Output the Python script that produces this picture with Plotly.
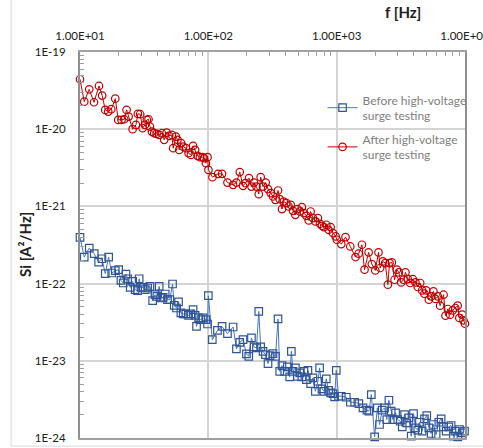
import plotly.graph_objects as go

# log10 of frequency [Hz] and log10 of Si [A^2/Hz]
after_logf = [1.000, 1.033, 1.072, 1.109, 1.148, 1.173, 1.197, 1.220, 1.244, 1.275,
              1.298, 1.324, 1.345, 1.363, 1.379, 1.410, 1.436, 1.451, 1.469, 1.488,
              1.506, 1.521, 1.534, 1.545, 1.560, 1.578, 1.597, 1.617, 1.638, 1.656,
              1.675, 1.695, 1.716, 1.726, 1.747, 1.760, 1.773, 1.788, 1.804, 1.825,
              1.846, 1.864, 1.881, 1.897, 1.916, 1.934, 1.955, 1.967, 1.981, 1.994,
              2.001, 2.032, 2.076, 2.107, 2.149, 2.193, 2.219, 2.245, 2.270, 2.289,
              2.317, 2.336, 2.356, 2.375, 2.393, 2.408, 2.426, 2.447, 2.465, 2.486,
              2.504, 2.523, 2.543, 2.556, 2.574, 2.587, 2.608, 2.626, 2.642, 2.660,
              2.678, 2.694, 2.712, 2.729, 2.745, 2.764, 2.782, 2.797, 2.815, 2.834,
              2.854, 2.870, 2.885, 2.901, 2.919, 2.937, 2.953, 2.971, 2.992, 3.002,
              3.036, 3.069, 3.106, 3.147, 3.171, 3.197, 3.217, 3.249, 3.274, 3.301,
              3.326, 3.339, 3.360, 3.378, 3.399, 3.412, 3.430, 3.451, 3.469, 3.484,
              3.503, 3.521, 3.536, 3.554, 3.573, 3.593, 3.614, 3.632, 3.651, 3.666,
              3.684, 3.697, 3.718, 3.736, 3.754, 3.770, 3.788, 3.806, 3.833, 3.848,
              3.866, 3.884, 3.904, 3.925, 3.943, 3.956, 3.977, 3.988, 4.000]
after_logsi = [-19.353, -19.643, -19.483, -19.651, -19.440, -19.565, -19.750, -19.772, -19.741, -19.604,
               -19.880, -19.880, -19.871, -19.750, -19.837, -20.000, -19.944, -19.802, -19.806, -19.987,
               -19.944, -19.880, -19.871, -19.966, -20.031, -20.052, -20.061, -20.074, -20.052, -20.138,
               -20.044, -20.087, -20.074, -20.246, -20.096, -20.138, -20.268, -20.181, -20.225, -20.246,
               -20.311, -20.333, -20.216, -20.268, -20.345, -20.362, -20.362, -20.375, -20.440, -20.362,
               -20.527, -20.621, -20.578, -20.578, -20.691, -20.721, -20.691, -20.556, -20.734, -20.699,
               -20.634, -20.743, -20.691, -20.743, -20.841, -20.621, -20.743, -20.691, -20.776, -20.828,
               -20.872, -20.915, -20.794, -20.906, -21.035, -20.937, -20.957, -21.001, -20.979, -21.057,
               -21.109, -21.035, -21.066, -21.009, -21.087, -21.122, -21.182, -21.066, -21.151, -21.195,
               -21.151, -21.225, -21.251, -21.268, -21.238, -21.303, -21.268, -21.345, -21.389, -21.432,
               -21.488, -21.397, -21.519, -21.656, -21.613, -21.497, -21.820, -21.596, -21.747, -21.829,
               -21.596, -21.798, -21.713, -21.734, -22.014, -21.734, -21.726, -21.950, -21.820, -21.855,
               -21.985, -21.950, -21.855, -21.941, -21.992, -21.941, -21.985, -22.044, -21.992, -22.088,
               -22.131, -22.088, -22.208, -22.166, -22.101, -22.199, -22.166, -22.286, -22.144, -22.415,
               -22.329, -22.402, -22.347, -22.316, -22.286, -22.445, -22.402, -22.476, -22.519]

before_logf = [1.000, 1.033, 1.072, 1.111, 1.145, 1.171, 1.197, 1.223, 1.247, 1.275,
               1.301, 1.319, 1.337, 1.358, 1.371, 1.391, 1.410, 1.430, 1.449, 1.461,
               1.475, 1.492, 1.508, 1.527, 1.545, 1.566, 1.584, 1.599, 1.617, 1.630,
               1.648, 1.664, 1.682, 1.700, 1.721, 1.734, 1.752, 1.768, 1.786, 1.804,
               1.825, 1.846, 1.864, 1.881, 1.897, 1.908, 1.924, 1.942, 1.959, 1.981,
               1.994, 2.000, 2.031, 2.071, 2.107, 2.149, 2.193, 2.219, 2.245, 2.270,
               2.297, 2.315, 2.336, 2.356, 2.375, 2.393, 2.408, 2.426, 2.445, 2.465,
               2.481, 2.504, 2.523, 2.543, 2.556, 2.574, 2.595, 2.616, 2.634, 2.647,
               2.660, 2.678, 2.694, 2.712, 2.729, 2.745, 2.764, 2.776, 2.797, 2.815,
               2.834, 2.854, 2.867, 2.885, 2.901, 2.919, 2.937, 2.953, 2.971, 2.984,
               2.997, 3.015, 3.036, 3.075, 3.107, 3.140, 3.173, 3.205, 3.236, 3.251,
               3.270, 3.296, 3.317, 3.334, 3.355, 3.373, 3.391, 3.407, 3.425, 3.438,
               3.459, 3.476, 3.495, 3.511, 3.529, 3.546, 3.562, 3.581, 3.599, 3.614,
               3.632, 3.645, 3.666, 3.684, 3.702, 3.718, 3.736, 3.754, 3.775, 3.796,
               3.814, 3.832, 3.853, 3.874, 3.892, 3.910, 3.926, 3.944, 3.957, 3.978,
               3.996]
before_logsi = [-21.402, -21.656, -21.540, -21.613, -21.721, -21.678, -21.872, -21.656, -21.863, -21.833,
                -21.820, -21.959, -21.992, -21.876, -21.937, -22.049, -21.972, -22.079, -22.092, -21.937,
                -22.049, -22.049, -22.079, -22.057, -22.036, -22.221, -22.144, -22.166, -22.036, -22.186,
                -22.179, -22.135, -22.208, -22.208, -22.005, -22.282, -22.316, -22.238, -22.380, -22.393,
                -22.393, -22.411, -22.393, -22.338, -22.411, -22.554, -22.445, -22.467, -22.445, -22.467,
                -22.523, -22.157, -22.726, -22.606, -22.554, -22.648, -22.562, -22.846, -22.761, -22.726,
                -22.911, -22.942, -22.704, -22.820, -22.833, -22.360, -22.820, -22.877, -22.920, -23.036,
                -22.933, -22.907, -22.942, -22.458, -23.136, -23.062, -23.136, -23.079, -23.208, -22.877,
                -23.136, -23.092, -23.201, -23.157, -23.208, -23.136, -23.243, -23.123, -23.295, -23.221,
                -23.395, -23.265, -23.092, -23.364, -23.395, -23.234, -23.382, -23.415, -23.424, -23.467,
                -23.123, -23.459, -23.459, -23.472, -23.537, -23.537, -23.554, -23.609, -23.640, -23.653,
                -23.437, -23.985, -23.609, -23.825, -23.640, -23.609, -23.761, -23.511, -23.653, -23.761,
                -23.674, -23.761, -23.783, -23.855, -23.696, -23.804, -23.739, -23.977, -23.683, -23.868,
                -23.899, -23.796, -23.912, -23.752, -23.709, -23.868, -23.942, -23.825, -23.955, -23.796,
                -23.752, -23.855, -23.912, -23.855, -23.838, -23.977, -23.912, -23.985, -23.890, -23.933,
                -23.912]

x_tickvals = [10, 100, 1000, 10000]
x_ticktext = ["1.00E+01", "1.00E+02", "1.00E+03", "1.00E+04"]
y_tickvals = [1e-24, 1e-23, 1e-22, 1e-21, 1e-20, 1e-19]
y_ticktext = ["1E-24", "1E-23", "1E-22", "1E-21", "1E-20", "1E-19"]

series_names = ["Before high-voltage<br>surge testing", "After high-voltage<br>surge testing"]

FONT = "Lato, 'Noto Sans', sans-serif"

before_f = [10 ** v for v in before_logf]
before_s = [10 ** v for v in before_logsi]
after_f = [10 ** v for v in after_logf]
after_s = [10 ** v for v in after_logsi]

fig = go.Figure()
fig.add_trace(go.Scatter(
    x=before_f, y=before_s, mode="lines+markers", name=series_names[0], legendgroup="before",
    line=dict(color="#4a74c4", width=1),
    marker=dict(symbol="square-open", size=7.5, color="#2f5597", line=dict(width=1.2, color="#2f5597")),
    cliponaxis=False,
))
fig.add_trace(go.Scatter(
    x=after_f, y=after_s, mode="lines+markers", name=series_names[1], legendgroup="after",
    line=dict(color="#c00000", width=1),
    marker=dict(symbol="circle-open", size=7.5, color="#c00000", line=dict(width=1.2, color="#c00000")),
    cliponaxis=False,
))

minor_x = [m * 10 ** d for d in range(1, 4) for m in range(2, 10)]
minor_y = [m * 10.0 ** d for d in range(-24, -19) for m in range(2, 10)]

fig.update_layout(
    width=483, height=448,
    margin=dict(l=80, r=18, t=52, b=10, autoexpand=False),
    paper_bgcolor="white", plot_bgcolor="white",
    font=dict(family=FONT, size=11, color="#404040"),
    showlegend=True,
    legend=dict(
        x=0.63, y=0.913, xanchor="left", yanchor="top",
        font=dict(family=FONT, size=12, color="#808080"),
        bgcolor="rgba(0,0,0,0)", tracegroupgap=5, itemwidth=30,
    ),
    xaxis=dict(
        type="log", range=[1, 4], side="top",
        tickmode="array", tickvals=x_tickvals, ticktext=x_ticktext,
        ticks="", showgrid=True, gridcolor="#d4d4d4", gridwidth=1.5,
        showline=True, linecolor="#a0a0a0", linewidth=1.5, mirror=True,
        tickfont=dict(family=FONT, size=11.5, color="#202020"),
        ticklabelstandoff=6, ticklabeloverflow="allow",
        minor=dict(tickmode="array", tickvals=minor_x, ticks="inside", ticklen=4,
                   tickcolor="#a0a0a0", tickwidth=1, showgrid=False),
        zeroline=False,
    ),
    yaxis=dict(
        type="log", range=[-24, -19],
        tickmode="array", tickvals=y_tickvals, ticktext=y_ticktext,
        ticks="", showgrid=True, gridcolor="#d4d4d4", gridwidth=1.5,
        showline=True, linecolor="#8f8f8f", linewidth=2, mirror=True,
        tickfont=dict(family=FONT, size=11.5, color="#202020"),
        ticklabelstandoff=10, ticklabeloverflow="allow",
        minor=dict(tickmode="array", tickvals=minor_y, ticks="inside", ticklen=4,
                   tickcolor="#a0a0a0", tickwidth=1, showgrid=False),
        zeroline=False,
    ),
    annotations=[
        dict(text="<b>f [Hz]</b>", xref="paper", yref="paper", x=0.84, y=1.0,
             xanchor="center", yanchor="middle", yshift=40, showarrow=False,
             font=dict(family=FONT, size=15, color="#202020")),
        dict(text="<b>Si [A²/Hz]</b>", xref="paper", yref="paper", x=0, y=0.5,
             xanchor="center", yanchor="middle", xshift=-55, textangle=-90, showarrow=False,
             font=dict(family=FONT, size=15, color="#202020")),
    ],
    shapes=[
        dict(type="rect", xref="paper", yref="paper", x0=-0.179, x1=1.2, y0=-0.021, y1=1.2,
             line=dict(color="#d9d9d9", width=1), layer="below"),
    ],
)

fig.write_html(
    "out.html",
    config={"displayModeBar": False},
    post_script="document.body.style.margin='0';document.body.style.overflow='hidden';",
)
